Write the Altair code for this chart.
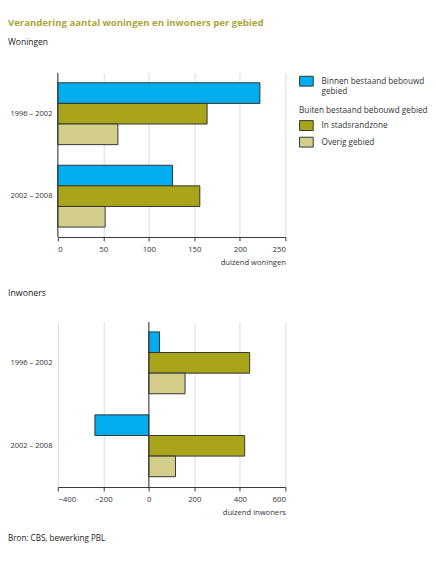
import pandas as pd
import altair as alt

periodes = ["1996 – 2002", "2002 – 2008"]
gebieden = ["Binnen bestaand bebouwd gebied", "In stadsrandzone", "Overig gebied"]
kleuren = ["#00adef", "#a9a51b", "#d4ce8b"]

# duizenden
woningen_1996_2002 = [222, 164, 66]
woningen_2002_2008 = [126, 156, 52]
inwoners_1996_2002 = [47, 443, 159]
inwoners_2002_2008 = [-237, 421, 117]

titel = "Verandering aantal woningen en inwoners per gebied"
bron_tekst = "Bron: CBS, bewerking PBL"

FONT = "Open Sans"
DARK = "#333333"
TEXT = "#222222"
RECT = "M-1,-0.72L1,-0.72L1,0.72L-1,0.72Z"
SPACING = 23


def make_df(a, b):
    rows = []
    for periode, waarden in zip(periodes, [a, b]):
        for gebied, w in zip(gebieden, waarden):
            rows.append({"periode": periode, "gebied": gebied, "waarde": w})
    return pd.DataFrame(rows)


def encodings(domain, ticks, title):
    x = alt.X("waarde:Q", scale=alt.Scale(domain=domain, nice=False),
              axis=alt.Axis(values=ticks, title=title))
    y = alt.Y("periode:N", sort=periodes,
              scale=alt.Scale(paddingInner=0.25, paddingOuter=0.12),
              axis=alt.Axis(title=None, domain=False, ticks=False, grid=False,
                            labelPadding=6, labelFontSize=7.7))
    yoff = alt.YOffset("gebied:N", scale=alt.Scale(domain=gebieden, paddingInner=0, paddingOuter=0))
    return x, y, yoff


def zero_rule():
    return alt.Chart().mark_rule(color=DARK, strokeWidth=1).encode(x=alt.datum(0))


def text_line(tekst, y, size, color, weight="normal"):
    return alt.Chart(pd.DataFrame({"t": [tekst]})).mark_text(
        align="left", baseline="middle", font=FONT, fontSize=size, color=color, fontWeight=weight
    ).encode(text="t:N", x=alt.value(-51), y=alt.value(y))


# kop: titel en "Woningen"
kop = alt.layer(
    text_line(titel, 9, 9.8, "#a9a637", "bold"),
    text_line("Woningen", 28, 8.7, TEXT),
).properties(width=233, height=59 - SPACING)

# woningen: twee legenda's, zodat de kop "Buiten..." erboven komt
df_w = make_df(woningen_1996_2002, woningen_2002_2008)
x, y, yoff = encodings([0, 250], [0, 50, 100, 150, 200, 250], "duizend woningen")

binnen = alt.Chart(df_w).transform_filter(
    alt.datum.gebied == gebieden[0]
).mark_bar(stroke=DARK, strokeWidth=1).encode(
    x=x, y=y, yOffset=yoff,
    color=alt.Color("gebied:N", scale=alt.Scale(domain=gebieden[:1], range=kleuren[:1]),
                    legend=alt.Legend(title=None, orient="none", legendX=247, legendY=1,
                                      symbolType=RECT, symbolSize=196,
                                      symbolStrokeColor=DARK, symbolStrokeWidth=1,
                                      labelExpr="split(replace(datum.label, 'bebouwd ', 'bebouwd|'), '|')",
                                      labelLimit=110, labelOffset=8))
)

buiten = alt.Chart(df_w).transform_filter(
    alt.datum.gebied != gebieden[0]
).mark_bar(stroke=DARK, strokeWidth=1).encode(
    x=x, y=y, yOffset=yoff,
    color=alt.Color("gebied:N", scale=alt.Scale(domain=gebieden[1:], range=kleuren[1:]),
                    legend=alt.Legend(title="Buiten bestaand bebouwd gebied", orient="none",
                                      legendX=247, legendY=34,
                                      symbolType=RECT, symbolSize=196,
                                      symbolStrokeColor=DARK, symbolStrokeWidth=1,
                                      rowPadding=2, titlePadding=4, labelOffset=8,
                                      labelLimit=110))
)

woningen = alt.layer(binnen, buiten, zero_rule()).resolve_scale(
    color="independent"
).properties(width=233, height=168)

# inwoners, met de bronvermelding eronder
df_i = make_df(inwoners_1996_2002, inwoners_2002_2008)
x, y, yoff = encodings([-400, 600], [-400, -200, 0, 200, 400, 600], "duizend inwoners")

inwoners_bars = alt.Chart(df_i).mark_bar(stroke=DARK, strokeWidth=1).encode(
    x=x, y=y, yOffset=yoff,
    color=alt.Color("gebied:N", scale=alt.Scale(domain=gebieden, range=kleuren), legend=None)
)

inwoners = alt.layer(inwoners_bars, zero_rule(), text_line(bron_tekst, 222, 8.3, TEXT)).properties(
    width=233, height=169,
    title=alt.TitleParams("Inwoners", anchor="start", fontSize=9, fontWeight="normal",
                          color=TEXT, font=FONT, offset=24)
)

chart = alt.vconcat(kop, woningen, inwoners, spacing=SPACING).resolve_scale(
    color="independent"
).properties(
    padding={"left": 0, "top": 0, "right": 0, "bottom": 0}
).configure_view(
    stroke=None
).configure_axis(
    labelFont=FONT, labelFontSize=8, labelColor=DARK,
    titleFont=FONT, titleFontSize=7.8, titleFontWeight="normal", titleColor=DARK
).configure_axisX(
    grid=True, gridColor="#d9d9d9", gridWidth=1,
    domainColor=DARK, tickColor=DARK, tickSize=4, labelPadding=5,
    titleAnchor="end", titlePadding=5
).configure_legend(
    labelFont=FONT, labelFontSize=8.4, labelColor=DARK,
    titleFont=FONT, titleFontSize=8.4, titleFontWeight="normal", titleColor=DARK,
    titleLimit=300
)

chart.save("out.html", embed_options={"renderer": "svg", "actions": False})
